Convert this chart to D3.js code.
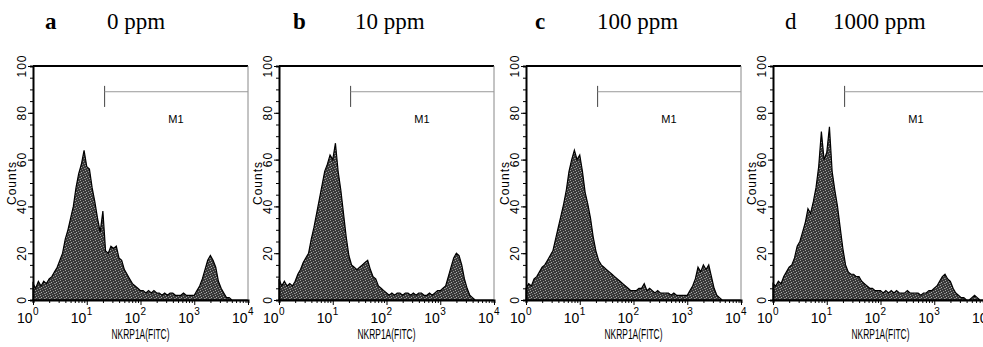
<!DOCTYPE html>
<html>
<head>
<meta charset="utf-8">
<script src="https://cdn.jsdelivr.net/npm/d3@7"></script>
<style>
  body { margin: 0; background: #fff; }
  svg { display: block; }
  .ylab { font-family: 'Liberation Sans', Arial, sans-serif; font-size: 12px; letter-spacing: 1px; }
  .xlab { font-family: 'Liberation Sans Narrow', 'Liberation Sans', Arial, sans-serif; }
</style>
</head>
<body>
<div id="chart"></div>
<script>
// panel labels
const panelLetters = ['a', 'b', 'c', 'd'];
const doses = ['0 ppm', '10 ppm', '100 ppm', '1000 ppm'];
const yTicks = [0, 20, 40, 60, 80, 100];
const xDecades = [0, 1, 2, 3, 4];
const axisTitle = 'NKRP1A(FITC)';
const yTitle = 'Counts';

// histogram counts, one value per 0.05 decade of FITC (10^0 .. 10^4)
const binStep = 0.05;
const countsA = [7, 5, 8, 6, 8, 7, 9, 10, 12, 14, 17, 20, 26, 30, 35, 40, 48, 54, 58, 64,
  57, 56, 48, 42, 35, 29, 38, 21, 20, 23, 22, 23, 18, 17, 13, 11, 9, 7, 6, 5,
  4, 4, 3, 4, 3, 4, 3, 3, 2, 3, 2, 3, 3, 2, 2, 2, 3, 2, 2, 2,
  2, 4, 6, 9, 13, 17, 19, 17, 14, 8, 5, 3, 1, 1, 0, 0, 0, 0, 0, 0, 0];
const countsB = [9, 6, 8, 6, 7, 6, 8, 11, 13, 16, 18, 20, 26, 31, 37, 43, 49, 55, 58, 62,
  60, 67, 55, 47, 37, 27, 19, 15, 14, 13, 14, 15, 16, 17, 13, 10, 9, 6, 5, 4,
  3, 2, 3, 2, 3, 3, 2, 3, 3, 2, 3, 2, 3, 3, 2, 2, 3, 2, 3, 4,
  4, 5, 6, 10, 14, 18, 20, 19, 15, 9, 5, 2, 1, 0, 0, 0, 0, 0, 0, 0, 0];
const countsC = [5, 7, 6, 9, 10, 12, 14, 15, 17, 19, 21, 26, 31, 36, 41, 47, 55, 60, 64, 60,
  62, 55, 46, 41, 35, 27, 21, 17, 15, 14, 13, 12, 11, 10, 9, 8, 7, 6, 5, 4,
  4, 4, 5, 5, 7, 4, 5, 4, 3, 4, 3, 3, 3, 3, 2, 3, 2, 2, 2, 2,
  2, 4, 6, 9, 14, 12, 15, 13, 15, 10, 5, 2, 1, 0, 0, 0, 0, 0, 0, 0, 0];
const countsD = [7, 6, 8, 7, 10, 12, 14, 15, 18, 23, 25, 29, 33, 39, 37, 42, 48, 57, 72, 60,
  63, 74, 55, 47, 40, 31, 22, 15, 12, 11, 11, 10, 10, 8, 7, 6, 5, 5, 4, 4,
  4, 3, 4, 3, 4, 3, 4, 3, 3, 3, 4, 3, 3, 3, 3, 2, 3, 3, 4, 4,
  5, 6, 8, 10, 11, 9, 8, 5, 3, 2, 1, 1, 0, 0, 1, 2, 1, 0, 0, 0, 0];
const allCounts = [countsA, countsB, countsC, countsD];

// M1 gate marker (FITC start, counts level and bar extent, label position)
const m1Start = 21.5;
const m1Level = 89;
const m1BarTop = 91.5;
const m1BarBottom = 82.5;
const m1LabelAt = [457, 75.5];

// layout
const W = 983, H = 347;
const panelLeft = [33, 279, 526, 773];
const panelW = 215;
const plotTop = 66, plotBottom = 300;
const letterDx = [12, 14, 9, 12];
const doseDx = [74, 76, 71, 60];

const svg = d3.select('#chart').append('svg')
  .attr('width', W)
  .attr('height', H);

// stippled fill like the scanned print
const pat = svg.append('defs').append('pattern')
  .attr('id', 'stipple')
  .attr('width', 5).attr('height', 5)
  .attr('patternUnits', 'userSpaceOnUse');
pat.append('rect').attr('width', 5).attr('height', 5).attr('fill', '#383838');
[[0, 0, '#a0a0a0'], [3, 1, '#8c8c8c'], [1, 2, '#b0b0b0'], [4, 3, '#949494'], [2, 4, '#7c7c7c'], [0, 3, '#6a6a6a']].forEach(p => {
  pat.append('rect').attr('x', p[0]).attr('y', p[1]).attr('width', 1).attr('height', 1).attr('fill', p[2]);
});

const minorTicks = [];
for (let d = 0; d < 4; d++) {
  for (let k = 2; k <= 9; k++) minorTicks.push(k * Math.pow(10, d));
}

panelLetters.forEach((letter, i) => {
  const left = panelLeft[i];
  const x = d3.scaleLog().domain([1, 10000]).range([left, left + panelW]);
  const y = d3.scaleLinear().domain([0, 100]).range([plotBottom, plotTop]);
  const g = svg.append('g').attr('class', 'panel');

  // titles
  svg.append('text')
    .attr('x', left + letterDx[i])
    .attr('y', 29)
    .attr('font-family', "'Liberation Serif', 'Times New Roman', serif")
    .attr('font-size', 23)
    .attr('font-weight', i === 3 ? 'normal' : 'bold')
    .text(letter);
  svg.append('text')
    .attr('x', left + doseDx[i])
    .attr('y', 29)
    .attr('font-family', "'Liberation Serif', 'Times New Roman', serif")
    .attr('font-size', 23)
    .text(doses[i]);

  // histogram
  const bins = allCounts[i].map((c, j) => ({ v: Math.pow(10, j * binStep), c: c }));
  const area = d3.area()
    .x(d => x(d.v))
    .y0(y(0))
    .y1(d => y(d.c));
  g.append('path')
    .datum(bins)
    .attr('d', area)
    .attr('fill', 'url(#stipple)')
    .attr('stroke', '#000')
    .attr('stroke-width', 1.2)
    .attr('stroke-linejoin', 'miter');

  // frame: thick top line, thin grey right edge
  g.append('line')
    .attr('x1', left).attr('x2', left + panelW)
    .attr('y1', plotTop).attr('y2', plotTop)
    .attr('stroke', '#000').attr('stroke-width', 2);
  g.append('line')
    .attr('x1', left + panelW).attr('x2', left + panelW)
    .attr('y1', plotTop).attr('y2', plotBottom)
    .attr('stroke', '#888').attr('stroke-width', 1);

  // y axis
  g.append('g')
    .attr('transform', 'translate(' + left + ',0)')
    .call(d3.axisLeft(y).tickValues(d3.range(0, 101, 5)).tickSize(3).tickFormat(''))
    .call(a => a.select('.domain').attr('stroke-width', 2));
  g.append('g')
    .attr('transform', 'translate(' + left + ',0)')
    .call(d3.axisLeft(y).tickValues(yTicks).tickSize(5).tickFormat(''))
    .call(a => a.select('.domain').remove());
  yTicks.forEach(t => {
    g.append('text')
      .attr('class', 'ylab')
      .attr('transform', 'translate(' + (left - 7) + ',' + y(t) + ') rotate(-90)')
      .attr('text-anchor', 'middle')
      .text(t);
  });
  g.append('text')
    .attr('class', 'ylab')
    .attr('transform', 'translate(' + (left - 17) + ',' + y(50) + ') rotate(-90)')
    .attr('text-anchor', 'middle')
    .attr('letter-spacing', 0.5)
    .text(yTitle);

  // x axis
  g.append('g')
    .attr('transform', 'translate(0,' + plotBottom + ')')
    .call(d3.axisBottom(x).tickValues(minorTicks).tickSize(3).tickFormat(''))
    .call(a => a.select('.domain').attr('stroke-width', 2));
  g.append('g')
    .attr('transform', 'translate(0,' + plotBottom + ')')
    .call(d3.axisBottom(x).tickValues(xDecades.map(d => Math.pow(10, d))).tickSize(5).tickFormat(''))
    .call(a => a.select('.domain').remove());
  xDecades.forEach(d => {
    const px = x(Math.pow(10, d));
    g.append('text')
      .attr('class', 'xlab')
      .attr('x', px - 0.5)
      .attr('y', 323)
      .attr('text-anchor', 'end')
      .attr('font-size', 14)
      .text('10');
    g.append('text')
      .attr('class', 'xlab')
      .attr('x', px)
      .attr('y', 315)
      .attr('font-size', 10)
      .text(d);
  });
  g.append('text')
    .attr('class', 'xlab')
    .attr('x', left + panelW / 2)
    .attr('y', 339)
    .attr('text-anchor', 'middle')
    .attr('font-size', 14)
    .attr('textLength', 58)
    .attr('lengthAdjust', 'spacingAndGlyphs')
    .text(axisTitle);

  // M1 gate
  g.append('line')
    .attr('x1', x(m1Start)).attr('x2', x(m1Start))
    .attr('y1', y(m1BarTop)).attr('y2', y(m1BarBottom))
    .attr('stroke', '#444').attr('stroke-width', 1);
  g.append('line')
    .attr('x1', x(m1Start)).attr('x2', left + panelW)
    .attr('y1', y(m1Level)).attr('y2', y(m1Level))
    .attr('stroke', '#999').attr('stroke-width', 1);
  g.append('text')
    .attr('x', x(m1LabelAt[0]))
    .attr('y', y(m1LabelAt[1]))
    .attr('text-anchor', 'middle')
    .attr('font-family', "'Liberation Sans', Arial, sans-serif")
    .attr('font-size', 11)
    .text('M1');
});
</script>
</body>
</html>
